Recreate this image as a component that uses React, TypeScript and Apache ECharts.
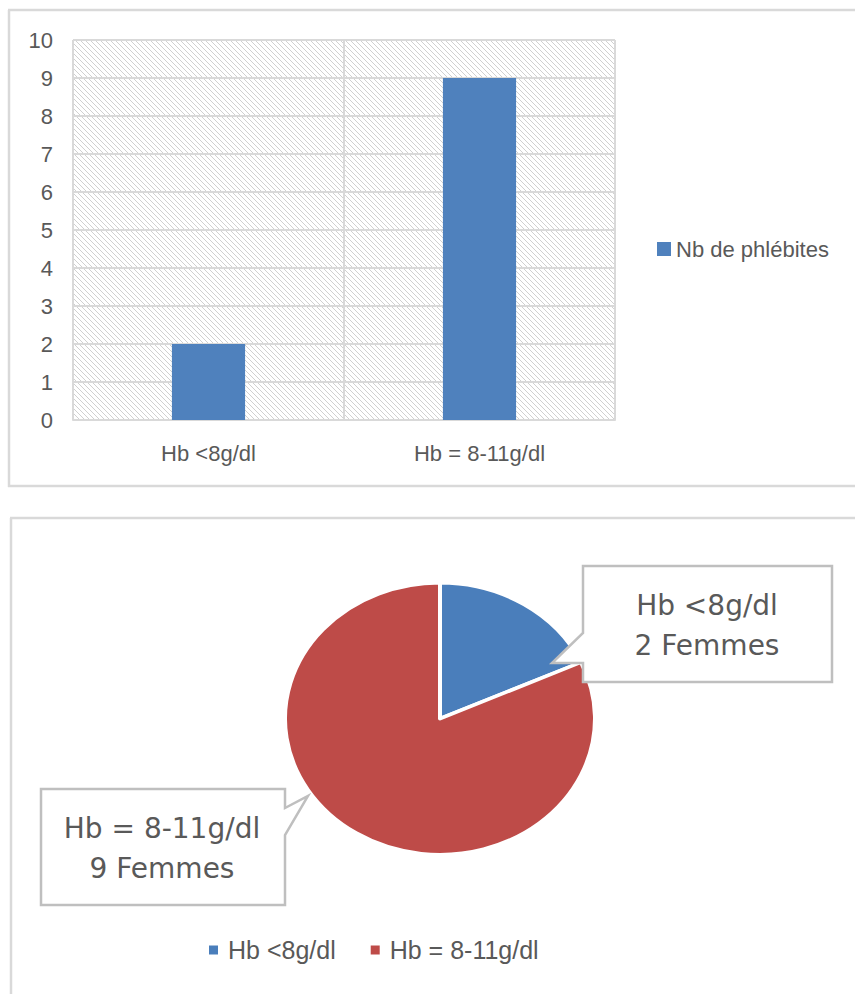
import React, { useEffect, useRef } from "react";
import * as echarts from "echarts";

// Bar chart: number of phlebitis cases by haemoglobin level
const barCategories = ["Hb <8g/dl", "Hb = 8-11g/dl"];
const phlebitisCounts = [2, 9];
const barSeriesName = "Nb de phlébites";
const yMin = 0;
const yMax = 10;
const yInterval = 1;

// Pie chart: women per haemoglobin level
const pieNames = ["Hb <8g/dl", "Hb = 8-11g/dl"];
const pieCounts = [2, 9];
const pieUnit = "Femmes";

const TEXT = "#595959";
const GRID_LINE = "#d9d9d9";
const FONT = "Liberation Sans";

// Pie geometry (the pie is flattened into an ellipse)
const PIE_CX = 440;
const PIE_CY = 719;
const PIE_RX = 155;
const PIE_RY = 136;

function hatchPattern() {
  const s = 5;
  const c = document.createElement("canvas");
  c.width = s;
  c.height = s;
  const ctx = c.getContext("2d")!;
  ctx.fillStyle = "#ffffff";
  ctx.fillRect(0, 0, s, s);
  ctx.strokeStyle = "#d0d0d0";
  ctx.lineWidth = 1;
  ctx.beginPath();
  ctx.moveTo(-1, -1);
  ctx.lineTo(s + 1, s + 1);
  ctx.moveTo(-1, s - 1);
  ctx.lineTo(1, s + 1);
  ctx.moveTo(s - 1, -1);
  ctx.lineTo(s + 1, 1);
  ctx.stroke();
  return { image: c, repeat: "repeat" };
}

function calloutText(i: number) {
  return `${pieNames[i]}\n${pieCounts[i]} ${pieUnit}`;
}

export default function App() {
  const ref = useRef<HTMLDivElement>(null);

  useEffect(() => {
    if (!ref.current) return;
    const chart = echarts.init(ref.current, null, { renderer: "svg" });

    const frameStyle = { stroke: GRID_LINE, lineWidth: 2.5 };
    const calloutStyle = { fill: "#ffffff", stroke: "#bfbfbf", lineWidth: 2.5 };
    const calloutFont = {
      fontFamily: "DejaVu Sans",
      fontSize: 28,
      fill: TEXT,
      align: "center",
      verticalAlign: "middle",
      lineHeight: 40,
    };

    chart.setOption({
      animation: false,
      backgroundColor: "#ffffff",
      grid: {
        left: 73,
        right: 240,
        top: 40,
        bottom: 574,
        show: true,
        borderWidth: 0,
        backgroundColor: hatchPattern(),
      },
      xAxis: {
        type: "category",
        data: barCategories,
        axisLine: { lineStyle: { color: GRID_LINE, width: 2 } },
        axisTick: { show: false },
        splitLine: { show: true, lineStyle: { color: GRID_LINE, width: 2 } },
        axisLabel: { color: TEXT, fontSize: 22, fontFamily: FONT, margin: 22 },
      },
      yAxis: {
        type: "value",
        min: yMin,
        max: yMax,
        interval: yInterval,
        axisLine: { show: false },
        axisTick: { show: false },
        splitLine: { lineStyle: { color: GRID_LINE, width: 2 } },
        axisLabel: { color: TEXT, fontSize: 22, fontFamily: FONT, margin: 20 },
      },
      legend: [
        {
          data: [barSeriesName],
          left: 652,
          top: 232,
          icon: "rect",
          itemWidth: 14,
          itemHeight: 14,
          textStyle: { color: TEXT, fontSize: 22, fontFamily: FONT, lineHeight: 24 },
        },
        {
          data: pieNames,
          left: 202,
          top: 932,
          icon: "rect",
          itemWidth: 11,
          itemHeight: 11,
          itemGap: 33,
          textStyle: {
            color: TEXT,
            fontSize: 25,
            fontFamily: FONT,
            lineHeight: 26,
            padding: [0, 0, 0, 4],
          },
        },
      ],
      series: [
        {
          name: barSeriesName,
          type: "bar",
          data: phlebitisCounts,
          barWidth: "27%",
          itemStyle: { color: "#4f81bd" },
          emphasis: { disabled: true },
        },
        {
          name: "Hb",
          type: "pie",
          center: [PIE_CX, PIE_CY],
          radius: PIE_RX,
          startAngle: 90,
          clockwise: true,
          label: { show: false },
          labelLine: { show: false },
          emphasis: { disabled: true },
          itemStyle: { borderColor: "#ffffff", borderWidth: 4 },
          data: pieNames.map((name, i) => ({
            name,
            value: pieCounts[i],
            itemStyle: { color: i === 0 ? "#4a7ebb" : "#be4b48" },
          })),
        },
      ],
      graphic: [
        // panel frames
        { type: "line", shape: { x1: 8, y1: 10, x2: 855, y2: 10 }, style: frameStyle },
        { type: "line", shape: { x1: 9, y1: 10, x2: 9, y2: 487 }, style: frameStyle },
        { type: "line", shape: { x1: 8, y1: 486, x2: 855, y2: 486 }, style: frameStyle },
        { type: "line", shape: { x1: 10, y1: 518, x2: 855, y2: 518 }, style: frameStyle },
        { type: "line", shape: { x1: 11, y1: 518, x2: 11, y2: 994 }, style: frameStyle },
        // callouts
        {
          type: "polygon",
          z: 100,
          shape: {
            points: [
              [583, 566],
              [832, 566],
              [832, 682],
              [583, 682],
              [583, 663],
              [552, 663],
              [583, 633],
            ],
          },
          style: calloutStyle,
        },
        {
          type: "text",
          z: 101,
          x: 707,
          y: 625,
          style: { ...calloutFont, text: calloutText(0) },
        },
        {
          type: "polygon",
          z: 100,
          shape: {
            points: [
              [41, 789],
              [285, 789],
              [285, 808],
              [308, 796],
              [285, 835],
              [285, 905],
              [41, 905],
            ],
          },
          style: calloutStyle,
        },
        {
          type: "text",
          z: 101,
          x: 162,
          y: 848,
          style: { ...calloutFont, text: calloutText(1) },
        },
      ],
    });

    // Flatten the pie vertically into an ellipse
    try {
      const anyChart = chart as any;
      const model = anyChart.getModel();
      const pieModel = model.getSeriesByType("pie")[0];
      const view = anyChart.getViewOfSeriesModel(pieModel);
      if (view && view.group) {
        view.group.originX = PIE_CX;
        view.group.originY = PIE_CY;
        view.group.scaleY = PIE_RY / PIE_RX;
        view.group.markRedraw();
        chart.getZr().refreshImmediately();
      }
    } catch (e) {
      // keep the round pie
    }

    return () => chart.dispose();
  }, []);

  return (
    <div
      ref={ref}
      style={{ position: "absolute", left: 0, top: 0, width: 855, height: 994, background: "#fff" }}
    />
  );
}
